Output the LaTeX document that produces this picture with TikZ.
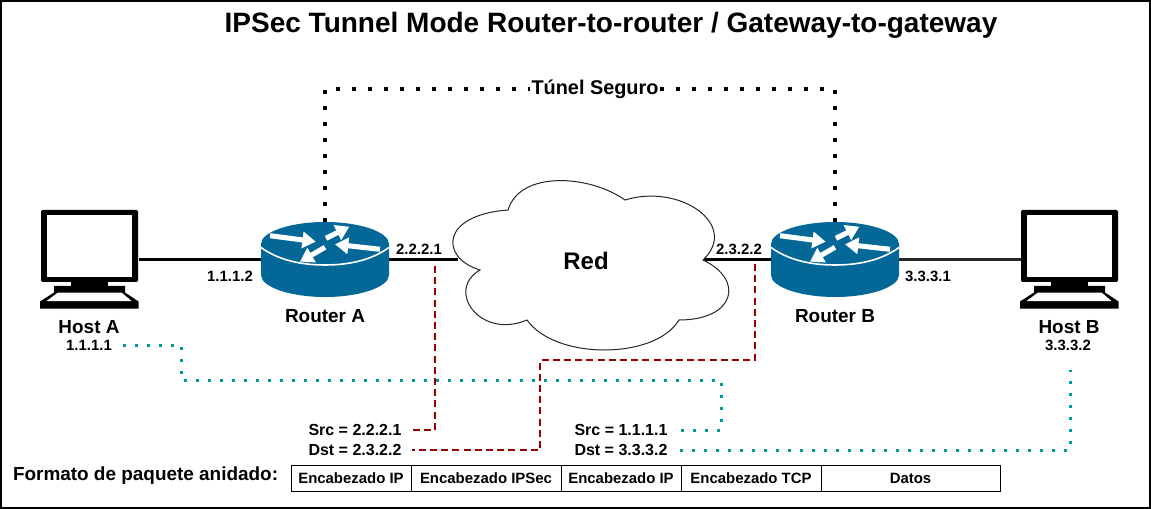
\documentclass[tikz,border=0pt]{standalone}
\usepackage{fontspec}
\setmainfont{Liberation Sans}
\usetikzlibrary{arrows.meta}
\definecolor{routerblue}{HTML}{036897}
\definecolor{tealdot}{HTML}{009999}
\definecolor{darkred}{HTML}{990000}
\tikzset{
	arrowtip/.style={white,line width=3.8pt,-{Triangle[length=10pt,width=12pt]}},
	pics/router/.style={code={
		\fill[routerblue] (-64,-15.5) -- (-64,15.5) .. controls (-64,27.5) and (-35,37.5) .. (0,37.5)
			.. controls (35,37.5) and (64,27.5) .. (64,15.5) -- (64,-15.5)
			.. controls (64,-27.5) and (35,-37.5) .. (0,-37.5) .. controls (-35,-37.5) and (-64,-27.5) .. (-64,-15.5) -- cycle;
		\draw[white,line width=1.2pt] (-64,-12) .. controls (-50,-2) and (-30,5.5) .. (0,5.5) .. controls (30,5.5) and (50,-2) .. (64,-12);
		\draw[arrowtip] (-55,-23.8) -- (-9.3,-17.8);
		\draw[arrowtip] (1,-21.2) -- (24.3,-32.8);
		\draw[arrowtip] (55,-10.2) -- (10,-15.2);
		\draw[arrowtip] (0,-12.2) -- (-25,2.2);
	}},
	pics/computer/.style={code={
		\fill[black,rounded corners=1pt] (-48.5,-49.5) rectangle (48.5,22.5);
		\fill[white] (-42.5,-44.5) rectangle (42,17.5);
		\fill[black] (-18.5,22.5) rectangle (18.5,28);
		\fill[black] (-35.5,26.5) -- (35.5,26.5) -- (35.5,33) -- (49,42) -- (49,49) -- (-49.5,49) -- (-49.5,42) -- (-35.5,33) -- cycle;
		\fill[white] (-31.5,33) -- (32,33) -- (42,41.5) -- (-43,41.5) -- cycle;
	}}
}
\begin{document}
\begin{tikzpicture}[x=0.75pt,y=-0.75pt,
	box/.style={inner sep=0pt,outer sep=0pt},
	link/.style={line width=2.25pt},
	tunneldots/.style={line width=2.8pt,dash pattern=on 2.8pt off 9.2pt},
	tealdots/.style={tealdot,line width=2.25pt,dash pattern=on 2.25pt off 6.75pt},
	reddash/.style={darkred,line width=1.6pt,dash pattern=on 5.2pt off 3.2pt},
	devname/.style={font=\bfseries\fontsize{14.2}{16}\selectfont,inner sep=0pt},
	addr/.style={font=\bfseries\fontsize{11.2}{13}\selectfont,inner sep=0pt},
	packetaddr/.style={font=\bfseries\fontsize{12}{14}\selectfont,inner sep=0pt},
	cell/.style={draw,line width=0.75pt,minimum height=19.5pt,inner sep=0pt,font=\bfseries\fontsize{11.2}{13}\selectfont}]
\useasboundingbox (0,0) rectangle (1151,509);
\draw[line width=1.5pt] (1,1) rectangle (1150,508);
\node[box,font=\bfseries\fontsize{21}{24}\selectfont] (title) at (611,25) {IPSec Tunnel Mode Router-to-router / Gateway-to-gateway};
% hosts and routers
\node[box,minimum width=73.5pt,minimum height=74.25pt] (hostA) at (89.5,259.5) {};
\node[box,minimum width=73.5pt,minimum height=74.25pt] (hostB) at (1069.5,259.5) {};
\node[box,minimum width=96pt,minimum height=56.25pt] (routerA) at (325,259.5) {};
\node[box,minimum width=96pt,minimum height=56.25pt] (routerB) at (835,259.5) {};
\coordinate (cloudW) at (458,259.5);
\coordinate (cloudE) at (703,259.5);
\coordinate (tapA) at (435,266);
\coordinate (tapB) at (755,264);
\coordinate (tapHost) at (1070,370);
\coordinate (bendA) at (181,380);
\coordinate (bendB) at (721,380);
\coordinate (bendC) at (540,360);
% links
\draw[link] (hostA) -- (routerA);
\draw[link] (routerA) -- (cloudW);
\draw[link] (cloudE) -- (routerB);
\draw[line width=1.6pt,black!85] (routerB) -- (hostB);
% cloud
\draw[fill=white,draw=black!85,line width=0.75pt] (508,210) .. controls (520,170) and (590,175) .. (625,200)
	.. controls (680,183) and (740,225) .. (703,260)
	.. controls (745,280) and (735,320) .. (679,320)
	.. controls (655,360) and (555,360) .. (527,320)
	.. controls (480,340) and (445,290) .. (480,270)
	.. controls (440,258) and (440,215) .. (508,210) -- cycle;
\node[box,font=\bfseries\fontsize{18}{20}\selectfont] (red) at (586,261) {Red};
\pic at (hostA) {computer};
\pic at (hostB) {computer};
\pic at (routerA) {router};
\pic at (routerB) {router};
% labels
\node[devname] (hostAname) at (89,327) {Host A};
\node[devname] (hostBname) at (1069,327) {Host B};
\node[devname] (routerAname) at (325,316) {Router A};
\node[devname] (routerBname) at (835,316) {Router B};
\node[addr] (ipHostA) at (89,345) {1.1.1.1};
\node[addr] (ipHostB) at (1068,345) {3.3.3.2};
\node[addr] (ipRouterA) at (230,276) {1.1.1.2};
\node[addr] (ipRouterAout) at (419,249) {2.2.2.1};
\node[addr] (ipRouterBout) at (739,249) {2.3.2.2};
\node[addr] (ipRouterB) at (928,276) {3.3.3.1};
\node[packetaddr] (srcOuter) at (355,430) {Src = 2.2.2.1};
\node[packetaddr] (dstOuter) at (355,450) {Dst = 2.3.2.2};
\node[packetaddr] (srcInner) at (621,430) {Src = 1.1.1.1};
\node[packetaddr] (dstInner) at (621,450) {Dst = 3.3.3.2};
% tunnel
\node[box,fill=white,inner xsep=1pt,inner ysep=2pt,font=\bfseries\fontsize{14.9}{17}\selectfont] (tunnel) at (595,89) {Túnel Seguro};
\draw[tunneldots] (routerA.north) |- (tunnel.west);
\draw[tunneldots] (routerB.north) |- (tunnel.east);
% paths of the addresses
\draw[reddash,shorten >=8pt] (tapA) |- (srcOuter.east);
\draw[reddash,shorten >=8pt] (tapB) |- (bendC) |- (dstOuter.east);
\draw[tealdots,shorten <=8pt,shorten >=9.5pt] (ipHostA.east) -| (bendA) -| (bendB) |- (srcInner.east);
\draw[tealdots,shorten <=9.5pt] (dstInner.east) -| (tapHost);
% packet format
\node[box,anchor=west,font=\bfseries\fontsize{14.2}{16}\selectfont] (format) at (13,476) {Formato de paquete anidado:};
\node[cell,minimum width=90pt] (c1) at (351,478) {Encabezado IP};
\node[cell,minimum width=112.5pt] (c2) at (486,478) {Encabezado IPSec};
\node[cell,minimum width=90pt] (c3) at (621,478) {Encabezado IP};
\node[cell,minimum width=105pt] (c4) at (751,478) {Encabezado TCP};
\node[cell,minimum width=134.25pt] (c5) at (910.5,478) {Datos};
\end{tikzpicture}
\end{document}
